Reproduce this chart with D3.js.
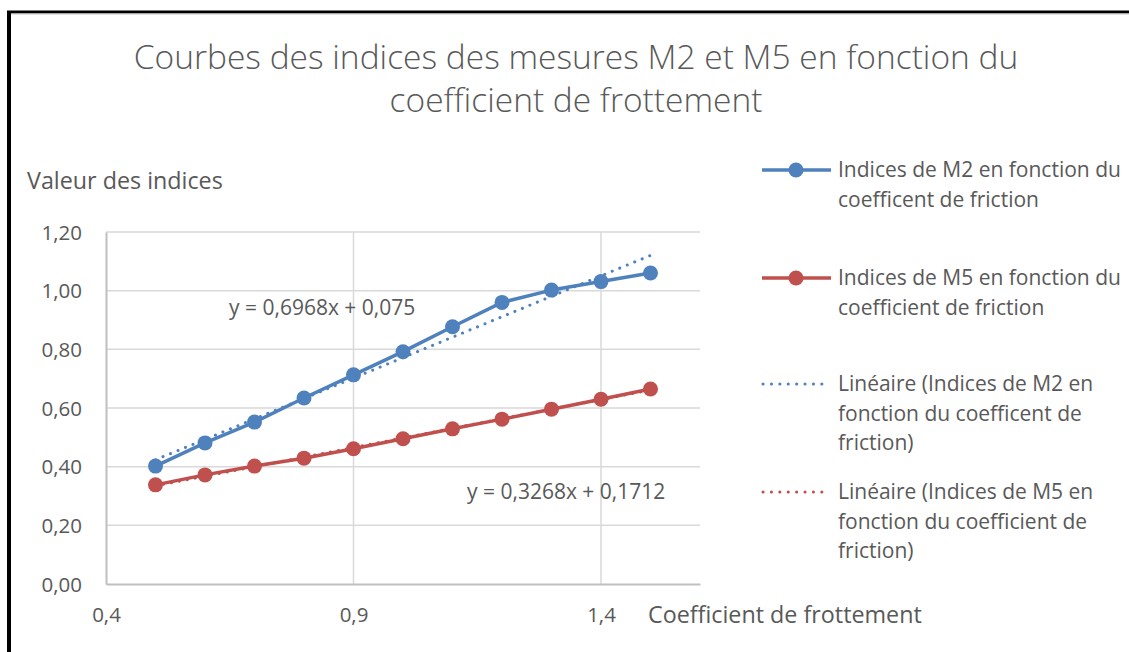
<!DOCTYPE html>
<html>
<head>
<meta charset="utf-8">
<script src="https://cdn.jsdelivr.net/npm/d3@7"></script>
<style>
  html, body { margin: 0; padding: 0; background: #fff; }
  svg { display: block; }
  text { font-family: "Open Sans", sans-serif; fill: #595959; }
</style>
</head>
<body>
<svg id="chart" width="1129" height="652"></svg>
<script>
// Friction coefficient values (x) and the two measured index series
const coefficients = [0.5, 0.6, 0.7, 0.8, 0.9, 1.0, 1.1, 1.2, 1.3, 1.4, 1.5];
const indicesM2 = [0.402, 0.481, 0.552, 0.634, 0.713, 0.792, 0.877, 0.960, 1.002, 1.031, 1.060];
const indicesM5 = [0.338, 0.372, 0.402, 0.429, 0.461, 0.495, 0.529, 0.562, 0.596, 0.630, 0.665];

// Linear trend parameters [slope, intercept]
const trendM2 = [0.6968, 0.075];
const trendM5 = [0.3268, 0.1712];

const xTicks = [0.4, 0.9, 1.4];
const yTicks = [0, 0.2, 0.4, 0.6, 0.8, 1.0, 1.2];

const titleLines = ["Courbes des indices des mesures M2 et M5 en fonction du", "coefficient de frottement"];
const legendLabels = [
  ["Indices de M2 en fonction du", "coefficent de friction"],
  ["Indices de M5 en fonction du", "coefficient de friction"],
  ["Linéaire (Indices de M2 en", "fonction du coefficent de", "friction)"],
  ["Linéaire (Indices de M5 en", "fonction du coefficient de", "friction)"]
];

const blue = "#4F81BD", red = "#C0504D";
const comma = v => v.toString().replace(".", ",");

const svg = d3.select("#chart");

// Frame
svg.append("line").attr("x1", 9).attr("x2", 9).attr("y1", 11).attr("y2", 652)
  .attr("stroke", "#000").attr("stroke-width", 4);
svg.append("line").attr("x1", 7).attr("x2", 1129).attr("y1", 12).attr("y2", 12)
  .attr("stroke", "#000").attr("stroke-width", 3);
svg.append("line").attr("x1", 11).attr("x2", 1129).attr("y1", 14).attr("y2", 14)
  .attr("stroke", "#c8c8c8").attr("stroke-width", 1);

const x = d3.scaleLinear().domain([0.4, 1.6]).range([106, 700]);
const y = d3.scaleLinear().domain([0, 1.2]).range([584, 232]);

// Gridlines
svg.append("g").selectAll("line").data(yTicks.slice(1)).join("line")
  .attr("x1", x(0.4)).attr("x2", x(1.6))
  .attr("y1", d => y(d)).attr("y2", d => y(d))
  .attr("stroke", "#D9D9D9").attr("stroke-width", 1.5);
svg.append("g").selectAll("line").data(xTicks.slice(1)).join("line")
  .attr("x1", d => x(d)).attr("x2", d => x(d))
  .attr("y1", y(0)).attr("y2", y(1.2))
  .attr("stroke", "#D9D9D9").attr("stroke-width", 1.5);

// Axes
const xAxis = svg.append("g").attr("transform", `translate(0,${y(0)})`)
  .call(d3.axisBottom(x).tickValues(xTicks).tickSize(0).tickPadding(31).tickFormat(d => comma(d.toFixed(1))));
const yAxis = svg.append("g").attr("transform", `translate(${x(0.4)},0)`)
  .call(d3.axisLeft(y).tickValues(yTicks).tickSize(0).tickPadding(24).tickFormat(d => comma(d.toFixed(2))));
[xAxis, yAxis].forEach(g => {
  g.select(".domain").attr("stroke", "#BFBFBF").attr("stroke-width", 2);
  g.selectAll("text").attr("font-size", 20.5).attr("fill", "#595959")
    .attr("dy", "0.35em")
    .style("font-family", "'Open Sans', sans-serif");
});

// Series
const line = d3.line().x(d => x(d[0])).y(d => y(d[1]));
const series = [
  { values: indicesM2, color: blue, trend: trendM2 },
  { values: indicesM5, color: red, trend: trendM5 }
];
series.forEach(s => {
  const pts = coefficients.map((c, i) => [c, s.values[i]]);
  svg.append("path").datum(pts).attr("d", line)
    .attr("fill", "none").attr("stroke", s.color).attr("stroke-width", 3.5)
    .attr("stroke-linejoin", "round");
  svg.append("g").selectAll("circle").data(pts).join("circle")
    .attr("cx", d => x(d[0])).attr("cy", d => y(d[1])).attr("r", 7.5)
    .attr("fill", s.color);
});
series.forEach(s => {
  const ends = d3.extent(coefficients).map(c => [c, s.trend[0] * c + s.trend[1]]);
  svg.append("path").datum(ends).attr("d", line)
    .attr("fill", "none").attr("stroke", s.color).attr("stroke-width", 3)
    .attr("stroke-linecap", "round").attr("stroke-dasharray", "0.1 8");
});

// Trend equations
svg.append("text").attr("x", 229).attr("y", 308).attr("dy", "0.35em").attr("font-size", 21)
  .text(`y = ${comma(trendM2[0])}x + ${comma(trendM2[1])}`);
svg.append("text").attr("x", 467).attr("y", 492).attr("dy", "0.35em").attr("font-size", 21)
  .text(`y = ${comma(trendM5[0])}x + ${comma(trendM5[1])}`);

// Axis titles
svg.append("text").attr("x", 27).attr("y", 181).attr("dy", "0.35em").attr("font-size", 23.3)
  .text("Valeur des indices");
svg.append("text").attr("x", 648).attr("y", 615).attr("dy", "0.35em").attr("font-size", 23.3)
  .text("Coefficient de frottement");

// Title
svg.append("g").selectAll("text").data(titleLines).join("text")
  .attr("x", 576).attr("y", (d, i) => 57 + i * 43).attr("dy", "0.35em")
  .attr("text-anchor", "middle").attr("font-size", 33.5).attr("font-weight", 300)
  .text(d => d);

// Legend
const legendY = [170, 278, 384, 492];
const legendColors = [blue, red, blue, red];
legendLabels.forEach((lines, i) => {
  const g = svg.append("g").attr("transform", `translate(0,${legendY[i]})`);
  if (i < 2) {
    g.append("line").attr("x1", 762).attr("x2", 831).attr("y1", 0).attr("y2", 0)
      .attr("stroke", legendColors[i]).attr("stroke-width", 3.5);
    g.append("circle").attr("cx", 796).attr("cy", 0).attr("r", 7.5).attr("fill", legendColors[i]);
  } else {
    g.append("line").attr("x1", 763).attr("x2", 830).attr("y1", 0).attr("y2", 0)
      .attr("stroke", legendColors[i]).attr("stroke-width", 3)
      .attr("stroke-linecap", "round").attr("stroke-dasharray", "0.1 8.3");
  }
  g.selectAll("text").data(lines).join("text")
    .attr("x", 838).attr("y", (d, j) => j * 29.5).attr("dy", "0.35em")
    .attr("font-size", 21).text(d => d);
});
</script>
</body>
</html>
